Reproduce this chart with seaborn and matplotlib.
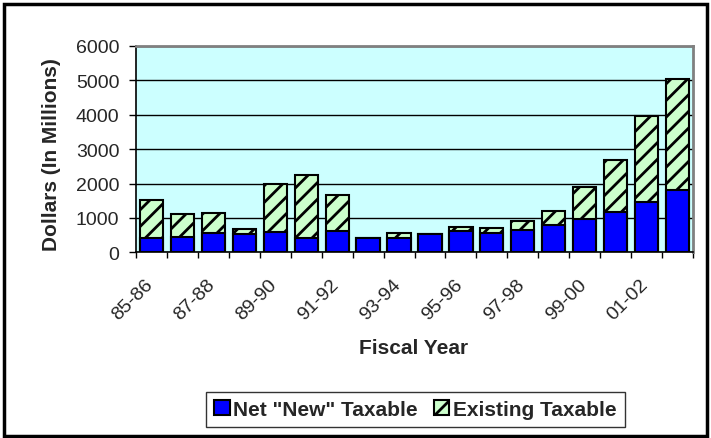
import matplotlib
matplotlib.use("Agg")
import matplotlib.pyplot as plt
import matplotlib.patches as mpatches
from matplotlib.transforms import ScaledTranslation
import seaborn as sns
import pandas as pd

years = ["85-86", "86-87", "87-88", "88-89", "89-90", "90-91", "91-92", "92-93", "93-94",
         "94-95", "95-96", "96-97", "97-98", "98-99", "99-00", "00-01", "01-02", "02-03"]
net_new = [420, 440, 550, 520, 580, 420, 620, 420, 430,
           540, 620, 560, 650, 800, 960, 1160, 1450, 1800]
existing = [1100, 670, 590, 160, 1420, 1820, 1045, 0, 120,
            0, 125, 140, 250, 390, 930, 1510, 2510, 3240]

df = pd.DataFrame({"Fiscal Year": years, "Net": net_new, "Existing": existing})
df["Total"] = df["Net"] + df["Existing"]

sns.set_style("white")
plt.rcParams["font.family"] = ["Liberation Sans", "DejaVu Sans"]
plt.rcParams["hatch.linewidth"] = 2.0
plt.rcParams["hatch.color"] = "black"

fig = plt.figure(figsize=(7.11, 4.39), dpi=100)
ax = fig.add_axes([0.1913, 0.423, 0.7834, 0.470])
ax.set_facecolor("#ccffff")

# stacked: total (existing, hatched) behind, net new in front
sns.barplot(data=df, x="Fiscal Year", y="Total", color="#ccffcc", hatch="//",
            edgecolor="black", linewidth=1.5, width=0.75, saturation=1, ax=ax,
            label="Existing Taxable", zorder=2)
sns.barplot(data=df, x="Fiscal Year", y="Net", color="#0000ff",
            edgecolor="black", linewidth=1.5, width=0.75, saturation=1, ax=ax,
            label='Net "New" Taxable', zorder=3)
if ax.legend_ is not None:
    ax.legend_.remove()

ax.set_ylim(0, 6000)
ax.set_yticks(range(0, 6001, 1000))
ax.set_xlim(-0.5, len(years) - 0.5)
ax.yaxis.grid(True, color="black", linewidth=1, zorder=1)
ax.set_axisbelow(True)

for s in ["top", "right"]:
    ax.spines[s].set_color("#808080")
    ax.spines[s].set_linewidth(2)
for s in ["left", "bottom"]:
    ax.spines[s].set_color("black")
    ax.spines[s].set_linewidth(1.2)

# tick marks between categories, labels on every other category
ax.set_xticks([i - 0.5 for i in range(len(years) + 1)])
ax.set_xticklabels([])
ax.tick_params(axis="x", which="major", length=4.5, width=1, color="black", bottom=True)
ax.set_xticks(range(0, len(years), 2), minor=True)
ax.set_xticklabels(years[::2], minor=True, rotation=45, ha="right", va="top",
                   rotation_mode="anchor", fontsize=14)
ax.tick_params(axis="x", which="minor", length=0, pad=17)
for lab in ax.get_xticklabels(minor=True):
    lab.set_transform(lab.get_transform() + ScaledTranslation(-0.07, 0, fig.dpi_scale_trans))
ax.tick_params(axis="y", length=5, width=1, color="black", left=True, labelsize=14, pad=7)

ax.set_xlabel("Fiscal Year", fontsize=15, fontweight="bold")
ax.xaxis.set_label_coords(0.499, -0.415)
ax.set_ylabel("Dollars (In Millions)", fontsize=15, fontweight="bold")
ax.yaxis.set_label_coords(-0.1347, 0.477)

handles, labels = ax.get_legend_handles_labels()
order = [labels.index('Net "New" Taxable'), labels.index("Existing Taxable")]
leg = fig.legend([handles[i] for i in order], [labels[i] for i in order],
                 loc="center", bbox_to_anchor=(0.584, 0.065), ncol=2,
                 frameon=True, fancybox=False, edgecolor="black",
                 handlelength=0.75, handleheight=0.75, handletextpad=0.18,
                 columnspacing=0.75, borderpad=0.4, borderaxespad=0,
                 prop={"weight": "bold", "size": 15})
leg.get_frame().set_linewidth(1)

fig.patches.append(mpatches.Rectangle((0.0063, 0.0046), 0.988, 0.983, transform=fig.transFigure,
                                      fill=False, edgecolor="black", linewidth=2.5))

fig.savefig("out.png", dpi=100)
